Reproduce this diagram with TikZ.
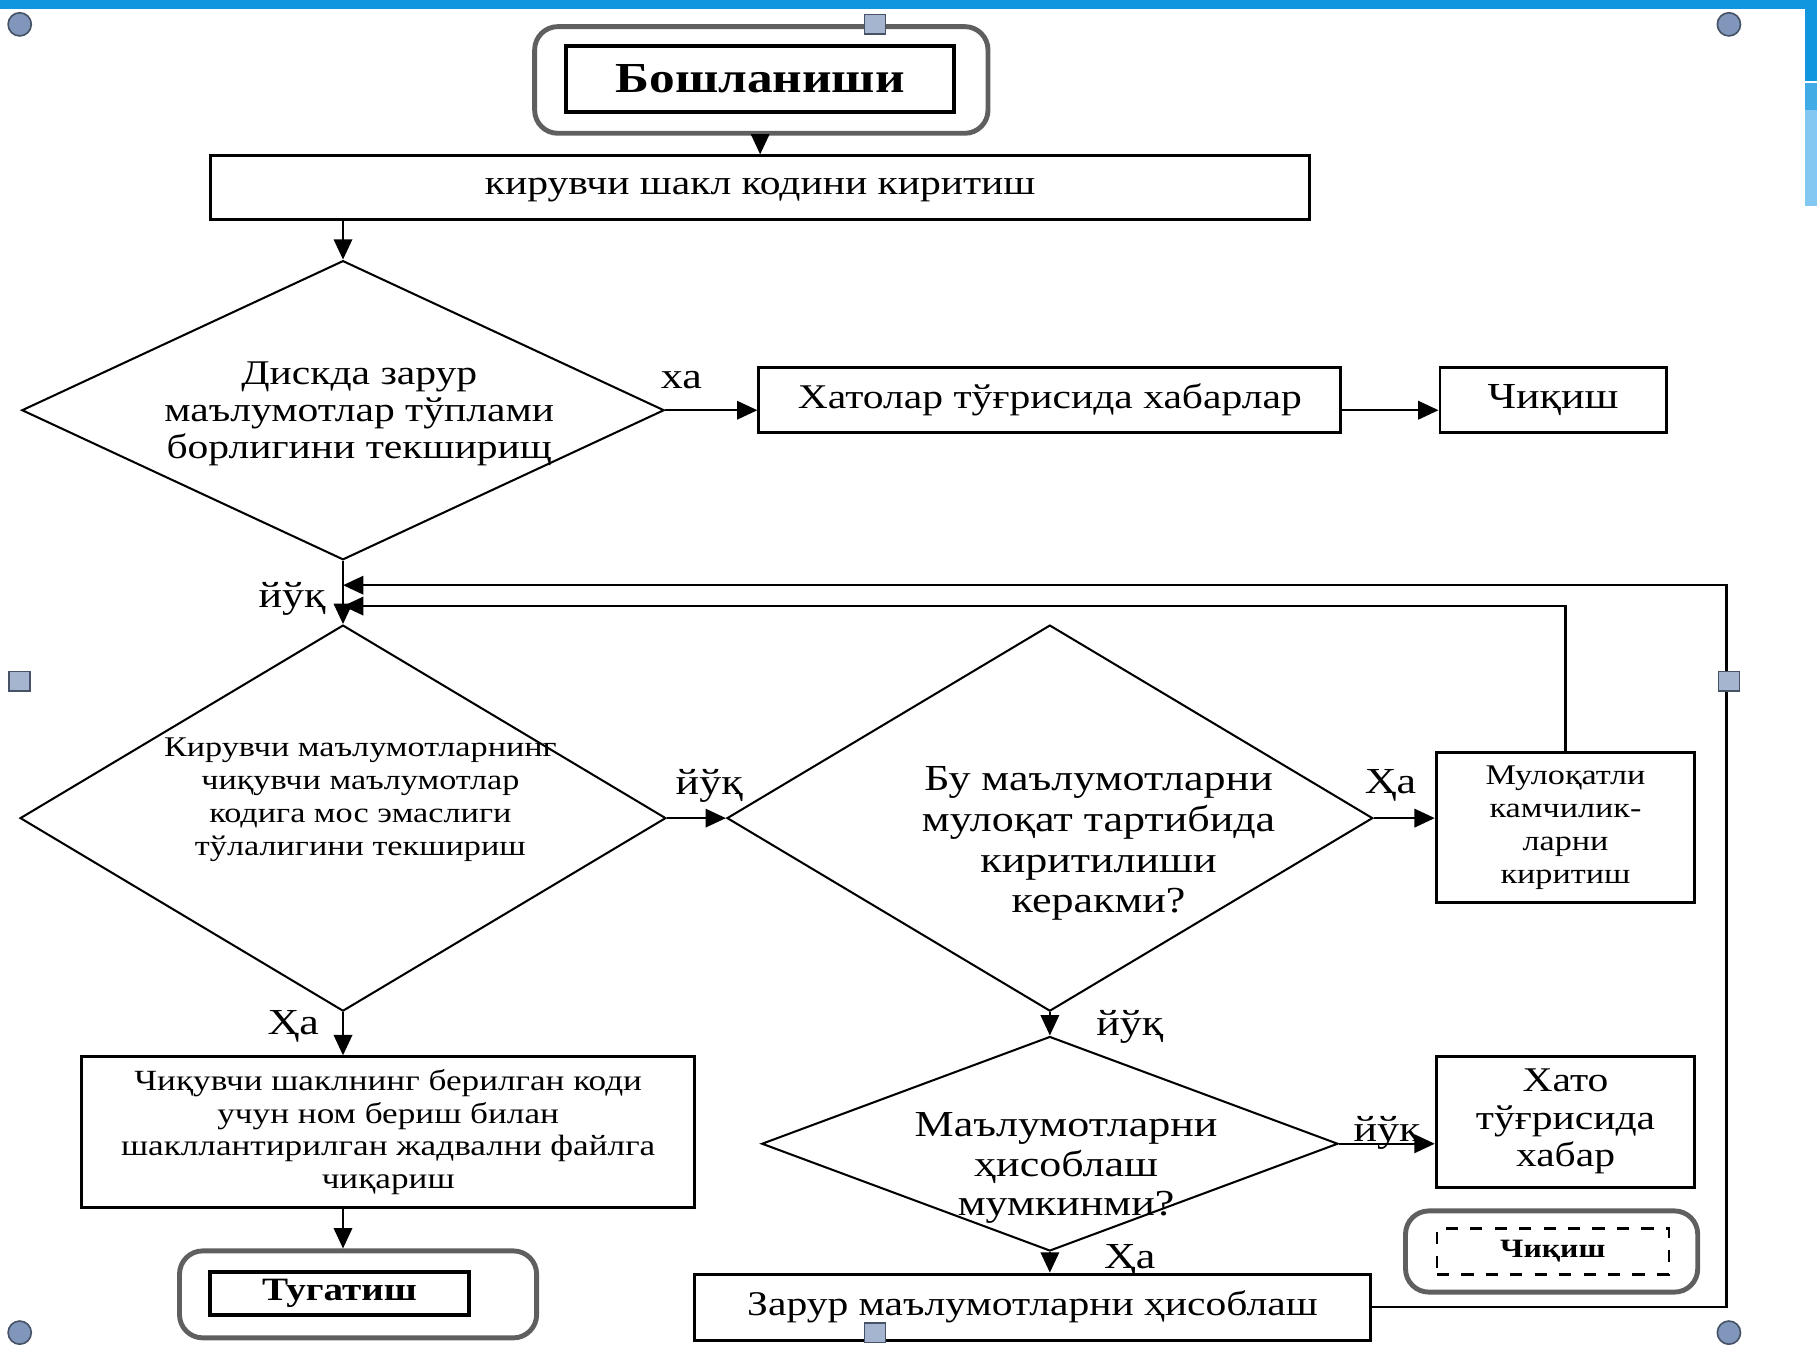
\documentclass[tikz,border=0pt]{standalone}
\usepackage{fontspec}
\setmainfont{Liberation Serif}[FakeStretch=1.2]
\usepackage{tikz}
\usetikzlibrary{positioning, shapes.geometric, arrows.meta}
\definecolor{slideblue}{RGB}{16,150,222}
\definecolor{slidelight}{RGB}{130,200,242}
\definecolor{handle}{RGB}{128,150,186}
\definecolor{framegray}{RGB}{95,95,95}
\tikzstyle{block} = [
    rectangle,
    draw,
    line width = 0.7pt,
    text centered,
    align = center,
    inner sep = 1pt
]
\tikzstyle{decision} = [
    diamond,
    draw,
    line width = 0.5pt,
    inner sep = 0pt
]
\tikzstyle{terminal} = [
    rectangle,
    draw = framegray,
    line width = 1.2pt,
    rounded corners = 0.2cm
]
\tikzstyle{flow} = [
    -{Triangle[length=5pt, width=4.5pt]},
    line width = 0.6pt
]
\tikzstyle{answer} = [
    font = \fontsize{9}{10}\selectfont,
    inner sep = 0pt
]
\tikzstyle{grip} = [
    circle,
    draw = handle!55!black,
    fill = handle,
    minimum size = 0.2cm,
    inner sep = 0pt
]
\tikzstyle{gripbox} = [
    rectangle,
    draw = handle!55!black,
    fill = handle!70,
    minimum width = 0.18cm,
    minimum height = 0.17cm,
    inner sep = 0pt
]

\begin{document}
\begin{tikzpicture}[x=0.01cm, y=-0.01cm]
    \useasboundingbox (0,0) rectangle (1568,1160);

    % slide edge
    \fill[slideblue] (0,0) rectangle (1568,8);
    \fill[slideblue] (1558,0) rectangle (1568,70);
    \fill[slideblue!80] (1558,72) rectangle (1568,95);
    \fill[slidelight] (1558,95) rectangle (1568,178);

    % start
    \node [terminal, minimum width = 3.91cm, minimum height = 0.92cm] (startframe) at (657,69) {};
    \node [block, line width = 1pt, minimum width = 3.35cm, minimum height = 0.57cm,
           font = \bfseries\fontsize{10.5}{12}\selectfont] (start) at (656,68) {Бошланиши};
    \node [block, minimum width = 9.48cm, minimum height = 0.55cm, text depth = 0.5pt,
           font = \fontsize{8.5}{9}\selectfont] (input) at (656,162) {кирувчи шакл кодини киритиш};
    \draw [flow] (startframe.south -| start.south) -- (input.north -| start.south);

    % disk check
    \node [decision, minimum width = 5.54cm, minimum height = 2.58cm] (disk) at (296,354) {};
    \node [font = \fontsize{8.5}{9.1}\selectfont, align = center] (disktxt) at (310,357)
        {Дискда зарур\\маълумотлар тўплами\\борлигини текширищ};
    \draw [flow] (input.south -| disk.north) -- (disk.north);

    \node [block, minimum width = 5.02cm, minimum height = 0.56cm,
           font = \fontsize{8.5}{9}\selectfont] (err) at (906,345) {Хатолар тўғрисида хабарлар};
    \node [block, right = 0.83cm of err, minimum width = 1.95cm, minimum height = 0.56cm,
           font = \fontsize{9}{10}\selectfont] (quit) {Чиқиш};
    \draw [flow] (disk.east) -- (disk.east -| err.west);
    \draw [flow] (err.east |- disk.east) -- (quit.west |- disk.east);
    \node [answer] (yes1) at (588,328) {ха};

    % code check
    \node [decision, minimum width = 5.57cm, minimum height = 3.33cm] (match) at (296,706) {};
    \node [font = \fontsize{7}{8.1}\selectfont, align = center] (matchtxt) at (311,690)
        {Кирувчи маълумотларнинг\\чиқувчи маълумотлар\\кодига мос эмаслиги\\тўлалигини текшириш};
    \draw [flow] (disk.south) -- (match.north);
    \node [answer] (no1) at (252,517) {йўқ};

    % dialog check
    \node [decision, minimum width = 5.57cm, minimum height = 3.33cm] (dialog) at (906,706) {};
    \node [font = \fontsize{9}{10}\selectfont, align = center] (dialogtxt) at (948,728)
        {Бу маълумотларни\\мулоқат тартибида\\киритилиши\\керакми?};
    \draw [flow] (match.east) -- (dialog.west);
    \node [answer] (no2) at (612,678) {йўқ};

    \node [block, minimum width = 2.23cm, minimum height = 1.29cm,
           font = \fontsize{7}{8.1}\selectfont] (fix) at (1351,714) {Мулоқатли\\камчилик-\\ларни\\киритиш};
    \draw [flow] (dialog.east) -- (dialog.east -| fix.west);
    \node [answer] (yes2) at (1200,678) {Ҳа};

    % output file
    \node [block, minimum width = 5.29cm, minimum height = 1.30cm,
           font = \fontsize{7.2}{8}\selectfont] (save) at (335,977)
        {Чиқувчи шаклнинг берилган коди\\учун ном бериш билан\\шакллантирилган жадвални файлга\\чиқариш};
    \draw [flow] (match.south) -- (match.south |- save.north);
    \node [answer] (yes3) at (253,886) {Ҳа};

    \node [terminal, minimum width = 3.08cm, minimum height = 0.75cm] (stopframe) at (309,1117) {};
    \node [block, line width = 1pt, minimum width = 2.23cm, minimum height = 0.37cm,
           font = \bfseries\fontsize{8}{9}\selectfont] (stop) at (293,1116) {Тугатиш};
    \draw [flow] (save.south -| match.south) -- (stopframe.north -| match.south);

    % calculation check
    \node [decision, minimum width = 4.97cm, minimum height = 1.85cm] (calcq) at (906,987) {};
    \node [font = \fontsize{9}{9.7}\selectfont, align = center] (calcqtxt) at (920,1008)
        {Маълумотларни\\ҳисоблаш\\мумкинми?};
    \draw [flow] (dialog.south) -- (calcq.north);
    \node [answer] (no3) at (975,886) {йўқ};

    \node [block, minimum width = 2.23cm, minimum height = 1.13cm,
           font = \fontsize{8.5}{9.2}\selectfont] (msg) at (1351,968) {Хато\\тўғрисида\\хабар};
    \draw [flow] (calcq.east) -- (calcq.east -| msg.west);
    \node [answer] (no4) at (1197,978) {йўқ};

    \node [terminal, minimum width = 2.52cm, minimum height = 0.70cm] (quitframe) at (1339,1080) {};
    \node [block, dashed, line width = 0.6pt, minimum width = 2.0cm, minimum height = 0.40cm,
           font = \bfseries\fontsize{6.5}{7}\selectfont] (quit2) at (1340,1080) {Чиқиш};

    \node [block, minimum width = 5.83cm, minimum height = 0.57cm,
           font = \fontsize{8.5}{9}\selectfont] (calc) at (891,1128) {Зарур маълумотларни ҳисоблаш};
    \draw [flow] (calcq.south) -- (calcq.south |- calc.north);
    \node [answer] (yes4) at (975,1088) {Ҳа};

    % loops back
    \coordinate (join1) at (296,505);
    \coordinate (join2) at (296,523);
    \coordinate (rail) at (1490,505);
    \draw [flow] (calc.east) -| (rail) -- (join1);
    \draw [flow] (fix.north) |- (join2);

    % selection handles
    \node [grip] (h1) at (17,21) {};
    \node [gripbox] (h2) at (755,21) {};
    \node [grip] (h3) at (1492,21) {};
    \node [gripbox] (h4) at (17,588) {};
    \node [gripbox] (h5) at (1492,588) {};
    \node [grip] (h6) at (17,1150) {};
    \node [gripbox] (h7) at (755,1150) {};
    \node [grip] (h8) at (1492,1150) {};

\end{tikzpicture}
\end{document}
